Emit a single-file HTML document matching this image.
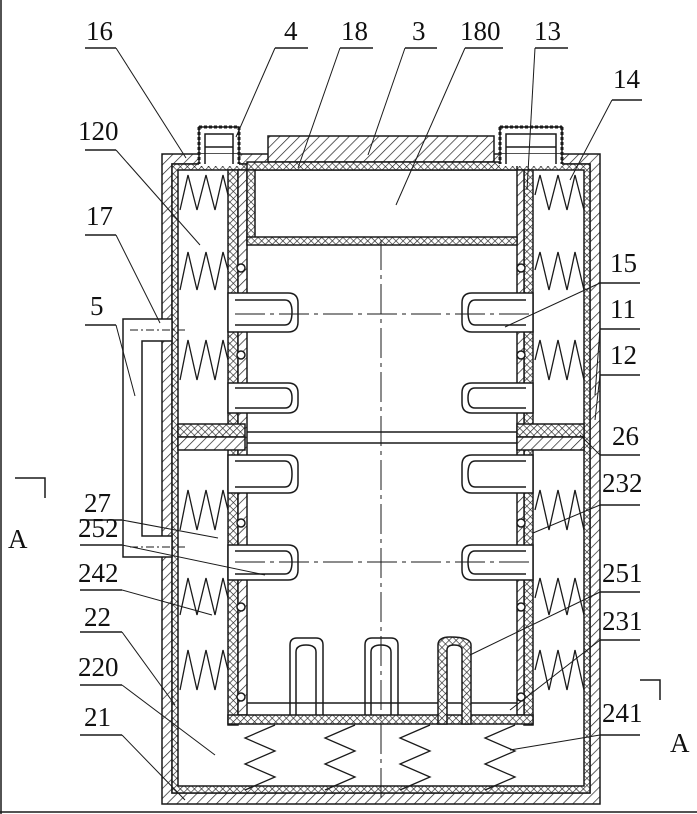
<!DOCTYPE html>
<html><head><meta charset="utf-8"><style>
html,body{margin:0;padding:0;background:#fff}
svg{display:block}
text{font-family:"Liberation Serif",serif;font-size:27px;fill:#111}
</style></head><body>
<svg width="697" height="814" viewBox="0 0 697 814" xmlns="http://www.w3.org/2000/svg">
<defs>
<pattern id="h" width="7" height="7" patternUnits="userSpaceOnUse" patternTransform="rotate(45)">
<rect width="7" height="7" fill="#fff"/><line x1="0" y1="0" x2="0" y2="7" stroke="#222" stroke-width="1.4"/></pattern>
<pattern id="c" width="5" height="5" patternUnits="userSpaceOnUse" patternTransform="rotate(45)">
<rect width="5" height="5" fill="#fff"/><path d="M0 0V5M0 0H5" stroke="#222" stroke-width="1.3"/></pattern>
</defs>
<g stroke="#1a1a1a" stroke-width="1.5">
<line x1="1" y1="0" x2="1" y2="814"/>
<line x1="0" y1="812" x2="697" y2="812"/>
<path d="M162 154H600V804H162Z M172 164H590V793H172Z" fill="url(#h)" fill-rule="evenodd"/>
<path d="M172 164H590V793H172Z M178 170H584V786H178Z" fill="url(#c)" fill-rule="evenodd"/>
<rect x="268" y="136" width="226" height="26" fill="url(#h)"/>
<rect x="247" y="162" width="270" height="8" fill="url(#c)"/>
<!-- U tubes -->
<rect x="199" y="154" width="40" height="12" fill="#fff" stroke="none"/>
<rect x="500" y="154" width="62" height="12" fill="#fff" stroke="none"/>
<path d="M199 164V127H239V164 M205 164V134H233V164" fill="none"/>
<path d="M199 127H239" stroke-dasharray="3 2" stroke-width="3"/>
<path d="M199 127V164M239 127V164" stroke-dasharray="3 2" stroke-width="3"/>
<path d="M205 147H233" fill="none"/>
<path d="M500 164V127H562V164 M506 164V134H556V164" fill="none"/>
<path d="M500 127H562" stroke-dasharray="3 2" stroke-width="3"/>
<path d="M500 127V164M562 127V164" stroke-dasharray="3 2" stroke-width="3"/>
<path d="M506 147H556" fill="none"/>
<rect x="228" y="170" width="10" height="555" fill="url(#c)"/>
<rect x="238" y="170" width="9" height="545" fill="url(#h)"/>
<rect x="524" y="170" width="9" height="555" fill="url(#c)"/>
<rect x="517" y="170" width="7" height="545" fill="url(#h)"/>
<rect x="247" y="170" width="8" height="70" fill="url(#c)"/>
<rect x="247" y="237" width="270" height="8" fill="url(#c)"/>
<rect x="178" y="424" width="67" height="13" fill="url(#c)"/>
<rect x="178" y="437" width="67" height="13" fill="url(#h)"/>
<rect x="517" y="424" width="67" height="13" fill="url(#c)"/>
<rect x="517" y="437" width="67" height="13" fill="url(#h)"/>
<line x1="247" y1="432" x2="517" y2="432"/><line x1="247" y1="443" x2="517" y2="443"/>
<rect x="228" y="715" width="305" height="9" fill="url(#c)"/>
<line x1="247" y1="703" x2="517" y2="703"/>
<g fill="#fff">
<circle cx="241" cy="268" r="4"/><circle cx="241" cy="355" r="4"/><circle cx="241" cy="523" r="4"/><circle cx="241" cy="607" r="4"/><circle cx="241" cy="697" r="4"/>
<circle cx="521" cy="268" r="4"/><circle cx="521" cy="355" r="4"/><circle cx="521" cy="523" r="4"/><circle cx="521" cy="607" r="4"/><circle cx="521" cy="697" r="4"/>
</g>
<g fill="#fff">
<path d="M228 293H288Q298 293 298 303V322Q298 332 288 332H228Z"/><path d="M235 300H285Q292 300 292 312Q292 325 285 325H235" fill="none"/>
<path d="M228 383H288Q298 383 298 393V403Q298 413 288 413H228Z"/><path d="M235 388H285Q292 388 292 398Q292 408 285 408H235" fill="none"/>
<path d="M228 455H288Q298 455 298 465V483Q298 493 288 493H228Z"/><path d="M235 461H285Q292 461 292 474Q292 487 285 487H235" fill="none"/>
<path d="M228 545H288Q298 545 298 555V570Q298 580 288 580H228Z"/><path d="M235 551H285Q292 551 292 562Q292 574 285 574H235" fill="none"/>
<path d="M533 293H472Q462 293 462 303V322Q462 332 472 332H533Z"/><path d="M526 300H475Q468 300 468 312Q468 325 475 325H526" fill="none"/>
<path d="M533 383H472Q462 383 462 393V403Q462 413 472 413H533Z"/><path d="M526 388H475Q468 388 468 398Q468 408 475 408H526" fill="none"/>
<path d="M533 455H472Q462 455 462 465V483Q462 493 472 493H533Z"/><path d="M526 461H475Q468 461 468 474Q468 487 475 487H526" fill="none"/>
<path d="M533 545H472Q462 545 462 555V570Q462 580 472 580H533Z"/><path d="M526 551H475Q468 551 468 562Q468 574 475 574H526" fill="none"/>
</g>
<path d="M290 715V645Q290 638 297 638H316Q323 638 323 645V715 M296 715V652Q296 645 306 645Q316 645 316 652V715" fill="none"/>
<path d="M365 715V645Q365 638 372 638H391Q398 638 398 645V715 M371 715V652Q371 645 381 645Q391 645 391 652V715" fill="none"/>
<path d="M438 724V645Q438 637 450 637Q471 637 471 645V724H462V650Q462 645 454 645Q447 645 447 650V724Z" fill="url(#c)"/>
<g fill="none" stroke-width="1.3">
<path d="M180 210L188 175L197 210L206 175L215 210L223 175L228 195"/>
<path d="M180 290L188 252L197 290L206 252L215 290L223 252L228 270"/>
<path d="M180 380L188 340L197 380L206 340L215 380L223 340L228 360"/>
<path d="M180 530L188 490L197 530L206 490L215 530L223 490L228 510"/>
<path d="M180 615L188 578L197 615L206 578L215 615L223 578L228 598"/>
<path d="M180 690L188 650L197 690L206 650L215 690L223 650L228 670"/>
<path d="M535 195L540 175L549 210L558 175L567 210L575 175L584 210"/>
<path d="M535 270L540 252L549 290L558 252L567 290L575 252L584 290"/>
<path d="M535 360L540 340L549 380L558 340L567 380L575 340L584 380"/>
<path d="M535 510L540 490L549 530L558 490L567 530L575 490L584 530"/>
<path d="M535 598L540 578L549 615L558 578L567 615L575 578L584 615"/>
<path d="M535 670L540 650L549 690L558 650L567 690L575 650L584 690"/>
<path d="M275 725L245 738L275 751L245 764L275 777L245 790"/>
<path d="M355 725L325 738L355 751L325 764L355 777L325 790"/>
<path d="M430 725L400 738L430 751L400 764L430 777L400 790"/>
<path d="M515 725L485 738L515 751L485 764L515 777L485 790"/>
</g>
<path d="M123 319H172V341H142V536H172V557H123Z" fill="#fff"/>
<line x1="130" y1="330" x2="185" y2="330" stroke-dasharray="8 3 2 3" stroke-width="1"/>
<line x1="130" y1="547" x2="185" y2="547" stroke-dasharray="8 3 2 3" stroke-width="1"/>
<g stroke-width="1" stroke-dasharray="30 5 4 5">
<line x1="381" y1="240" x2="381" y2="800"/>
<line x1="235" y1="314" x2="530" y2="314"/>
<line x1="235" y1="562" x2="530" y2="562"/>
</g>
<path d="M15 478H45V498" fill="none"/>
<path d="M640 680H660V700" fill="none"/>
<g>
<line x1="85" y1="48" x2="116" y2="48"/><line x1="275" y1="48" x2="308" y2="48"/><line x1="340" y1="48" x2="373" y2="48"/>
<line x1="405" y1="48" x2="437" y2="48"/><line x1="465" y1="48" x2="503" y2="48"/><line x1="535" y1="48" x2="568" y2="48"/>
<line x1="612" y1="100" x2="642" y2="100"/>
<line x1="85" y1="150" x2="116" y2="150"/><line x1="85" y1="235" x2="116" y2="235"/><line x1="85" y1="325" x2="116" y2="325"/>
<line x1="80" y1="520" x2="122" y2="520"/><line x1="80" y1="545" x2="122" y2="545"/><line x1="80" y1="590" x2="122" y2="590"/>
<line x1="80" y1="632" x2="122" y2="632"/><line x1="80" y1="685" x2="122" y2="685"/><line x1="80" y1="735" x2="122" y2="735"/>
<line x1="600" y1="283" x2="640" y2="283"/><line x1="600" y1="329" x2="640" y2="329"/><line x1="600" y1="375" x2="640" y2="375"/>
<line x1="600" y1="455" x2="640" y2="455"/><line x1="600" y1="505" x2="640" y2="505"/><line x1="600" y1="592" x2="640" y2="592"/>
<line x1="600" y1="640" x2="640" y2="640"/><line x1="600" y1="735" x2="640" y2="735"/>
</g>
<g fill="none" stroke-width="1">
<path d="M116 48L186 158"/><path d="M275 48L236 137"/><path d="M340 48L298 168"/><path d="M405 48L368 155"/>
<path d="M465 48L396 205"/><path d="M535 48L527 190"/><path d="M612 100L570 180"/>
<path d="M116 150L200 245"/><path d="M116 235L160 323"/><path d="M116 325L135 396"/>
<path d="M122 520L218 538"/><path d="M122 545L265 575"/><path d="M122 590L212 615"/>
<path d="M122 632L175 705"/><path d="M122 685L215 755"/><path d="M122 735L185 800"/>
<path d="M600 283L505 327"/><path d="M600 329L595 395"/><path d="M600 375L595 420"/>
<path d="M600 455L580 435"/><path d="M600 505L533 533"/><path d="M600 592L470 655"/>
<path d="M600 640L510 710"/><path d="M600 735L510 750"/>
</g>
</g>
<text x="86" y="40">16</text><text x="284" y="40">4</text><text x="341" y="40">18</text><text x="412" y="40">3</text>
<text x="460" y="40">180</text><text x="534" y="40">13</text><text x="613" y="88">14</text>
<text x="78" y="140">120</text><text x="86" y="225">17</text><text x="90" y="315">5</text>
<text x="84" y="512">27</text><text x="78" y="537">252</text><text x="78" y="582">242</text>
<text x="84" y="626">22</text><text x="78" y="676">220</text><text x="84" y="726">21</text>
<text x="610" y="272">15</text><text x="610" y="318">11</text><text x="610" y="364">12</text>
<text x="612" y="445">26</text><text x="602" y="492">232</text><text x="602" y="582">251</text>
<text x="602" y="630">231</text><text x="602" y="722">241</text>
<text x="8" y="548">A</text><text x="670" y="752">A</text>
</svg>
</body></html>
